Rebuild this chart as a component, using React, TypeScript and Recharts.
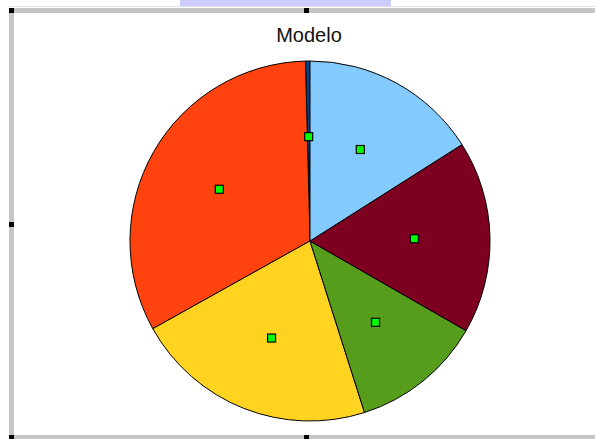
import React from "react";
import { PieChart, Pie, Cell } from "recharts";

// OpenOffice default palette order, slices go counter-clockwise from 12 o'clock
const names = ["Serie 1", "Serie 2", "Serie 3", "Serie 4", "Serie 5", "Serie 6"];
const values = [0.4, 32.7, 21.8, 11.8, 17.3, 16.0];
const colors = ["#004586", "#ff420e", "#ffd320", "#579d1c", "#7e0021", "#83caff"];

const data = names.map((name, i) => ({ name, value: values[i] }));

const RAD = Math.PI / 180;

function Marker(props: any) {
  const { cx, cy, midAngle, outerRadius } = props;
  const r = outerRadius * 0.58;
  const x = cx + r * Math.cos(-midAngle * RAD);
  const y = cy + r * Math.sin(-midAngle * RAD);
  return <rect x={x - 4} y={y - 4} width={8} height={8} fill="#00ff00" stroke="#000" strokeWidth={1.2} />;
}

const frame = "#c6c6c6";
const handle = (left: number, top: number) => (
  <div style={{ position: "absolute", left, top, width: 5, height: 5, background: "#000" }} />
);

export default function App() {
  return (
    <div style={{ position: "absolute", left: 0, top: 0, width: 595, height: 439, background: "#fff", overflow: "hidden" }}>
      {/* bits of the surrounding document */}
      <div style={{ position: "absolute", left: 180, top: 0, width: 211, height: 6, background: "#ccccff" }} />
      <div style={{ position: "absolute", left: 9, top: 6, width: 586, height: 1, background: "#e2e2e2" }} />
      {/* chart frame */}
      <div style={{ position: "absolute", left: 9, top: 8, width: 586, height: 5, background: frame }} />
      <div style={{ position: "absolute", left: 9, top: 8, width: 5, height: 431, background: frame }} />
      <div style={{ position: "absolute", left: 9, top: 435, width: 586, height: 4, background: frame }} />
      {handle(9, 8)}
      {handle(304, 8)}
      {handle(9, 222)}
      {handle(9, 435)}
      {handle(304, 435)}

      <div
        style={{
          position: "absolute",
          left: 0,
          width: 618,
          top: 24,
          textAlign: "center",
          fontFamily: "'Liberation Sans', Arial, sans-serif",
          fontSize: 20,
          color: "#111",
        }}
      >
        Modelo
      </div>

      <div style={{ position: "absolute", left: 0, top: 0 }}>
        <PieChart width={595} height={439} margin={{ top: 0, right: 0, bottom: 0, left: 0 }}>
          <Pie
            data={data}
            dataKey="value"
            nameKey="name"
            cx={310}
            cy={241}
            outerRadius={180}
            startAngle={90}
            endAngle={450}
            stroke="#000"
            strokeWidth={1}
            label={Marker}
            labelLine={false}
            isAnimationActive={false}
          >
            {data.map((d, i) => (
              <Cell key={d.name} fill={colors[i]} />
            ))}
          </Pie>
        </PieChart>
      </div>
    </div>
  );
}
